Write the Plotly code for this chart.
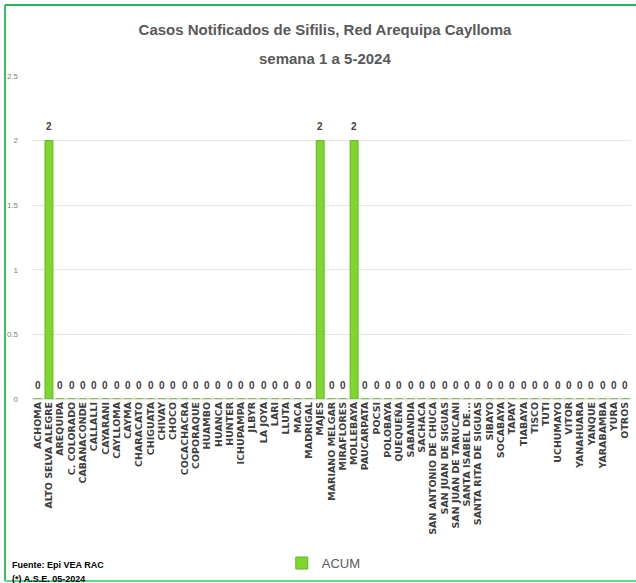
import plotly.graph_objects as go

categories = ["ACHOMA", "ALTO SELVA ALEGRE", "AREQUIPA", "C. COLORADO", "CABANACONDE",
              "CALLALLI", "CAYARANI", "CAYLLOMA", "CAYMA", "CHARACATO", "CHIGUATA",
              "CHIVAY", "CHOCO", "COCACHACRA", "COPORAQUE", "HUAMBO", "HUANCA", "HUNTER",
              "ICHUPAMPA", "JLBYR", "LA JOYA", "LARI", "LLUTA", "MACA", "MADRIGAL", "MAJES",
              "MARIANO MELGAR", "MIRAFLORES", "MOLLEBAYA", "PAUCARPATA", "POCSI", "POLOBAYA",
              "QUEQUEÑA", "SABANDIA", "SACHACA", "SAN ANTONIO DE CHUCA", "SAN JUAN DE SIGUAS",
              "SAN JUAN DE TARUCANI", "SANTA ISABEL DE...", "SANTA RITA DE SIGUAS", "SIBAYO",
              "SOCABAYA", "TAPAY", "TIABAYA", "TISCO", "TUTI", "UCHUMAYO", "VITOR",
              "YANAHUARA", "YANQUE", "YARABAMBA", "YURA", "OTROS"]
acum = [0, 2, 0, 0, 0, 0, 0, 0, 0, 0, 0, 0, 0, 0, 0, 0, 0, 0, 0, 0, 0, 0, 0, 0, 0, 2,
        0, 0, 2, 0, 0, 0, 0, 0, 0, 0, 0, 0, 0, 0, 0, 0, 0, 0, 0, 0, 0, 0, 0, 0, 0, 0, 0]
y_ticks = [0, 0.5, 1, 1.5, 2, 2.5]
y_tick_labels = ["0", "0.5", "1", "1.5", "2", "2.5"]

title_line1 = "Casos Notificados de Sifilis, Red Arequipa Caylloma"
title_line2 = "semana 1 a 5-2024"
series_name = "ACUM"
foot1 = "Fuente: Epi VEA RAC"
foot2 = "(*) A.S.E. 05-2024"

TITLE_FONT = dict(family="Liberation Sans", size=15, color="#595959", weight="bold")

fig = go.Figure()
fig.add_trace(go.Bar(
    x=categories, y=acum, name=series_name,
    marker=dict(color="#7fd62e", line=dict(color="#5fb81e", width=1)),
))

for c, v in zip(categories, acum):
    fig.add_annotation(x=c, y=v, text=str(v), showarrow=False, yanchor="middle",
                       yshift=14, font=dict(family="Liberation Sans", size=10,
                                            color="#404040", weight="bold"))

# second title line
fig.add_annotation(xref="paper", yref="paper", x=0.489, y=1.0557, xanchor="center",
                   yanchor="middle", showarrow=False, text=title_line2, font=TITLE_FONT)

# footnotes
fig.add_annotation(xref="paper", yref="paper", x=-0.037, y=-0.514, xanchor="left",
                   yanchor="middle", showarrow=False, text=foot1,
                   font=dict(family="Liberation Sans", size=9, color="#000000",
                             weight="bold"))
fig.add_annotation(xref="paper", yref="paper", x=-0.037, y=-0.557, xanchor="left",
                   yanchor="middle", showarrow=False, text=foot2,
                   font=dict(family="Liberation Sans", size=9, color="#000000",
                             weight="bold"))

# green frame (left, top, bottom)
frame = dict(xref="paper", yref="paper", xsizemode="pixel", ysizemode="pixel",
             xanchor=0, yanchor=0)
fig.add_shape(type="line", x0=-27, x1=-27, y0=-182, y1=394,
              line=dict(color="#3cc060", width=2), **frame)
fig.add_shape(type="line", x0=-27, x1=610, y0=394, y1=394,
              line=dict(color="#22b855", width=2), **frame)
fig.add_shape(type="line", x0=-27, x1=610, y0=-182, y1=-182,
              line=dict(color="#55dd88", width=2), **frame)

fig.update_layout(
    width=636, height=583,
    margin=dict(l=32, r=5, t=76, b=184),
    paper_bgcolor="white", plot_bgcolor="white",
    bargap=0.3,
    title=dict(text=title_line1, x=0.511, xanchor="center", xref="container",
               y=1 - 30 / 583, yanchor="middle", yref="container", font=TITLE_FONT),
    xaxis=dict(tickangle=-90, tickmode="array", tickvals=categories, ticktext=categories,
               tickfont=dict(family="DejaVu Sans", size=9.5, color="#404040",
                             weight="bold"),
               showgrid=False, showline=False, ticks="", automargin=False,
               range=[-0.5, len(categories) - 0.5]),
    yaxis=dict(range=[0, 2.5], tickvals=y_ticks, ticktext=y_tick_labels,
               tickfont=dict(family="Liberation Sans", size=8, color="#808080"),
               ticklabelstandoff=13,
               gridcolor="#e6e6e6", zeroline=True, zerolinecolor="#e0e0e0",
               automargin=False),
    showlegend=True,
    legend=dict(orientation="h", x=0.417, xanchor="left", y=-0.508, yanchor="middle",
                font=dict(family="Liberation Sans", size=13, color="#595959"),
                itemwidth=30),
)

fig.write_html("out.html", config={"displayModeBar": False},
               post_script="document.body.style.margin='0';")
